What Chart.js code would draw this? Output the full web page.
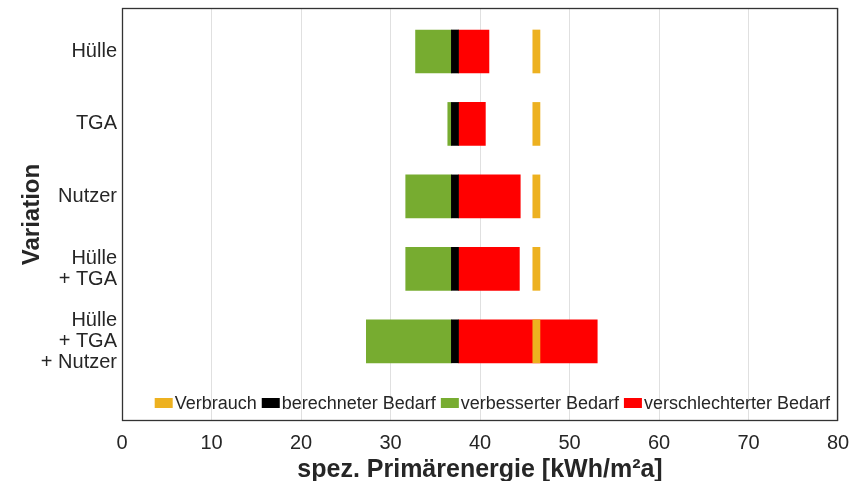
<!DOCTYPE html>
<html lang="de">
<head>
<meta charset="utf-8">
<title>Primärenergie nach Variation</title>
<script src="https://cdn.jsdelivr.net/npm/chart.js@4.4.1/dist/chart.umd.min.js"></script>
<style>
  html, body { margin: 0; padding: 0; background: #fff; }
  #wrap { width: 851px; height: 481px; }
</style>
</head>
<body>
<div id="wrap"><canvas id="chart" width="851" height="481"></canvas></div>
<script>
// Variationen, von oben nach unten
const variations = [["Hülle"], ["TGA"], ["Nutzer"], ["Hülle", "+ TGA"], ["Hülle", "+ TGA", "+ Nutzer"]];
const rows = [1, 2, 3, 4, 5];

// Balken als [von, bis] in kWh/m²a
const verbrauch = [[45.9, 46.7], [45.9, 46.7], [45.9, 46.7], [45.9, 46.7], [45.9, 46.7]];
const berechnet = [[36.8, 37.6], [36.8, 37.6], [36.8, 37.6], [36.8, 37.6], [36.8, 37.6]];
const verbessert = [[32.8, 36.8], [36.4, 36.8], [31.7, 36.8], [31.7, 36.8], [27.3, 36.8]];
const verschlechtert = [[37.6, 41.0], [37.6, 40.6], [37.6, 44.5], [37.6, 44.4], [37.6, 53.1]];

// x-Achse
const xMin = 0;
const xMax = 80;
const xStep = 10;

const textColor = "#262626";
const fontFamily = "'Liberation Sans', Arial, Helvetica, sans-serif";
Chart.defaults.font.family = fontFamily;
Chart.defaults.color = textColor;

const toPoints = (ranges) => ranges.map((r, i) => ({ x: r, y: rows[i] }));

// Rahmen um die Zeichenfläche
const frame = {
    id: "frame",
    afterDraw(chart) {
        const { ctx, chartArea: a } = chart;
        ctx.save();
        ctx.strokeStyle = "#333333";
        ctx.lineWidth = 1.3;
        ctx.strokeRect(a.left + 0.5, a.top + 0.5, a.right - a.left - 1, a.bottom - a.top - 1);
        ctx.restore();
    },
};

// Legende unten rechts innerhalb der Zeichenfläche
const innerLegend = {
    id: "innerLegend",
    afterDraw(chart) {
        const { ctx, chartArea: a } = chart;
        const boxW = 18, boxH = 10, gap = 2, itemGap = 5;
        ctx.save();
        ctx.font = "18px " + fontFamily;
        ctx.textBaseline = "middle";
        const items = chart.data.datasets.map((ds) => ({
            label: ds.label,
            color: ds.backgroundColor,
            w: boxW + gap + ctx.measureText(ds.label).width,
        }));
        const total = items.reduce((s, it) => s + it.w, 0) + itemGap * (items.length - 1);
        let x = a.right - 8 - total;
        const y = a.bottom - 18;
        items.forEach((it) => {
            ctx.fillStyle = it.color;
            ctx.fillRect(x, y - boxH / 2, boxW, boxH);
            ctx.fillStyle = textColor;
            ctx.fillText(it.label, x + boxW + gap, y + 1);
            x += it.w + itemGap;
        });
        ctx.restore();
    },
};

new Chart(document.getElementById("chart"), {
    type: "bar",
    data: {
        datasets: [
            { label: "Verbrauch", data: toPoints(verbrauch), backgroundColor: "#EDB120" },
            { label: "berechneter Bedarf", data: toPoints(berechnet), backgroundColor: "#000000" },
            { label: "verbesserter Bedarf", data: toPoints(verbessert), backgroundColor: "#77AC30" },
            { label: "verschlechterter Bedarf", data: toPoints(verschlechtert), backgroundColor: "#FF0000" },
        ],
    },
    options: {
        indexAxis: "y",
        responsive: false,
        animation: false,
        layout: { padding: { top: 8, right: 13, left: 0, bottom: 0 } },
        datasets: { bar: { grouped: false, barThickness: 43, borderWidth: 0 } },
        plugins: {
            legend: { display: false },
            tooltip: { enabled: false },
        },
        scales: {
            x: {
                type: "linear",
                min: xMin,
                max: xMax,
                z: 1,
                grid: { color: "rgba(0,0,0,0.12)", drawTicks: false },
                border: { display: false },
                ticks: { stepSize: xStep, padding: 10, font: { size: 20 } },
                title: {
                    display: true,
                    text: "spez. Primärenergie [kWh/m²a]",
                    font: { size: 25, weight: "bold" },
                    padding: { top: 0, bottom: -4 },
                },
                afterFit: (scale) => {
                    scale.height = 60;
                    scale.paddingLeft = 0;
                    scale.paddingRight = 0;
                },
            },
            y: {
                type: "linear",
                reverse: true,
                offset: false,
                min: 0.4,
                max: 6.1,
                grid: { display: false, drawTicks: false },
                border: { display: false },
                afterBuildTicks: (scale) => { scale.ticks = rows.map((v) => ({ value: v })); },
                ticks: {
                    autoSkip: false,
                    padding: 5,
                    font: { size: 20, lineHeight: "21px" },
                    callback: (v) => variations[v - 1],
                },
                title: {
                    display: true,
                    text: "Variation",
                    font: { size: 24, weight: "bold" },
                    padding: { top: 18, bottom: 0 },
                },
                afterFit: (scale) => {
                    scale.width = 122;
                    scale.paddingTop = 0;
                    scale.paddingBottom = 0;
                },
            },
        },
    },
    plugins: [frame, innerLegend],
});
</script>
</body>
</html>
